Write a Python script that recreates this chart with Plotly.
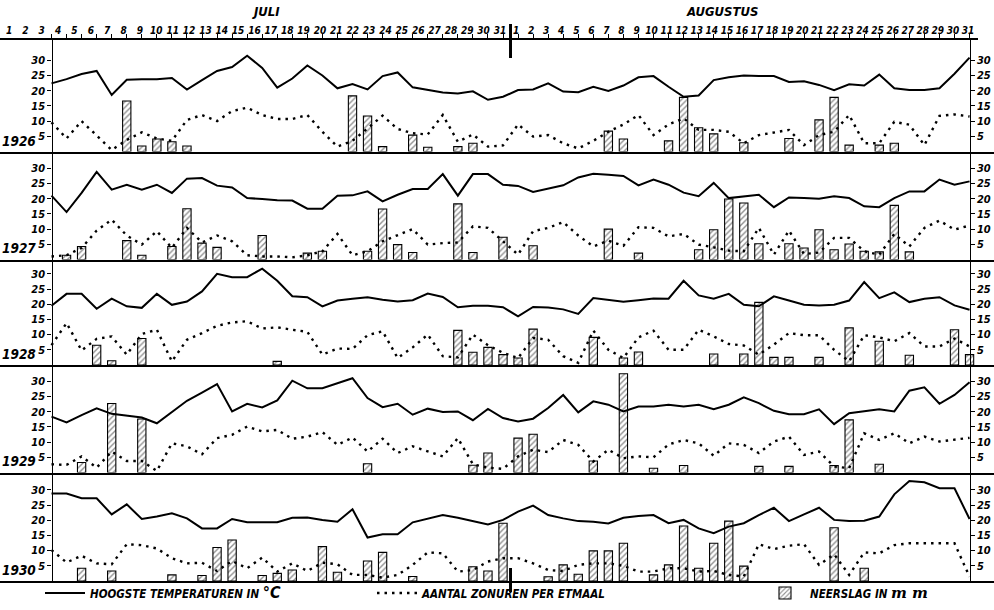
import plotly.graph_objects as go

N = None
YEARS = ["1926", "1927", "1928", "1929", "1930"]
DAY_NUMBERS = list(range(1, 32))
DAY_LABELS = [str(d) for d in DAY_NUMBERS]
DAY_INDEX = list(range(62))  # 0 = 1 juli ... 61 = 31 augustus
Y_TICKS = [5, 10, 15, 20, 25, 30]
MONTHS = ["JULI", "AUGUSTUS"]

# Hoogste temperaturen (°C): juli 1-31, augustus 1-31
TEMP_1926 = [22.4, 23.8, 25.5, 26.5, 18.6, 23.6, 23.8, 23.8, 24.2, 20.4,
             23.5, 26.5, 27.8, 31.5, 27.5, 21.0, 24.0, 28.3, 25.0, 20.8,
             22.2, 20.4, 24.8, 26.0, 21.1, 20.2, 19.4, 19.1, 19.8, 17.0, 18.0,
             20.2, 20.4, 22.4, 19.7, 19.5, 21.3, 19.9, 21.7, 24.4, 24.8,
             21.3, 18.0, 18.4, 23.5, 24.4, 25.0, 24.8, 24.8, 22.9, 23.1,
             21.9, 20.2, 22.1, 21.7, 25.3, 20.8, 20.2, 20.2, 20.8, 25.6, 30.9]
TEMP_1927 = [21.0, 15.6, 21.9, 28.8, 23.0, 24.6, 23.0, 24.6, 21.9, 26.6,
             26.8, 24.3, 23.7, 20.2, 19.9, 19.5, 19.4, 16.7, 16.7, 21.0,
             21.1, 22.4, 19.1, 21.3, 23.2, 23.2, 28.1, 21.0, 28.1, 28.1, 24.6,
             24.2, 22.2, 23.2, 24.4, 27.0, 28.2, 27.9, 27.5, 24.4, 26.3,
             24.6, 22.0, 20.8, 25.2, 20.2, 20.8, 21.3, 17.2, 20.4, 20.2,
             20.0, 20.8, 20.2, 17.5, 17.2, 20.2, 22.4, 22.4, 26.3, 24.6, 25.7]
TEMP_1928 = [19.5, 23.4, 23.4, 18.5, 21.8, 19.3, 18.8, 23.4, 19.8, 20.9,
             24.2, 30.0, 28.9, 28.9, 31.7, 27.7, 22.6, 22.3, 19.3, 21.2,
             21.8, 22.3, 21.5, 20.9, 21.3, 23.5, 22.4, 19.0, 19.5, 19.5, 19.0,
             16.0, 19.1, 18.9, 18.3, 16.8, 22.0, 21.5, 20.8, 21.3, 21.9,
             21.8, 27.7, 22.9, 21.8, 23.4, 19.8, 19.3, 22.6, 21.2, 19.8,
             19.6, 19.8, 21.2, 27.3, 22.0, 23.9, 20.7, 21.8, 22.3, 19.6, 18.2]
TEMP_1929 = [18.4, 16.5, 18.9, 21.1, 19.3, 18.6, 18.1, 16.2, 19.8, 23.6,
             26.3, 29.1, 20.1, 22.6, 21.4, 23.7, 30.2, 27.7, 27.7, 29.4,
             31.0, 24.5, 21.5, 22.6, 19.0, 21.0, 19.9, 20.1, 17.2, 20.9, 17.9,
             16.8, 17.7, 21.2, 25.5, 19.8, 23.4, 22.3, 20.1, 21.7, 21.7,
             22.3, 21.7, 22.3, 20.8, 22.3, 24.7, 22.8, 20.3, 19.2, 19.2,
             20.8, 15.9, 19.5, 20.1, 20.8, 20.1, 26.9, 28.0, 22.6, 25.5, 29.7]
TEMP_1930 = [28.8, 28.8, 27.2, 27.2, 21.9, 25.2, 20.4, 21.2, 22.3, 20.6,
             17.3, 17.3, 20.4, 19.3, 19.3, 19.3, 20.8, 20.9, 20.1, 19.5,
             23.6, 14.3, 15.4, 15.4, 19.3, 20.6, 21.7, 20.8, 19.7, 18.6, 20.1,
             22.8, 24.8, 21.7, 20.6, 19.7, 19.5, 18.9, 20.8, 21.4, 21.7,
             19.0, 20.1, 17.3, 15.7, 17.9, 19.0, 21.7, 24.1, 19.7, 21.9,
             24.1, 20.1, 19.7, 19.8, 21.2, 28.5, 32.9, 32.5, 30.5, 30.5, 20.4]

# Aantal zonuren per etmaal
SUN_1926 = [9.6, 4.3, 10.0, 5.4, 0.5, 3.8, 6.3, 4.3, 3.5, 10.4,
            12.0, 10.0, 13.3, 14.4, 12.0, 10.7, 10.7, 12.0, 6.5, 1.6,
            3.5, 7.6, 11.8, 7.4, 6.0, 5.6, 12.0, 3.2, 5.6, 1.6, 2.0,
            8.9, 4.9, 5.4, 2.7, 1.0, 3.5, 6.5, 8.9, 12.0, 5.4,
            8.9, 10.9, 7.1, 7.1, 6.5, 2.7, 5.4, 6.2, 7.1, 2.1,
            5.4, 6.5, 12.0, 2.7, 2.7, 9.8, 8.8, 2.1, 11.7, 12.2, 11.5]
SUN_1927 = [1.0, 1.4, 3.8, 9.5, 13.1, 7.9, 4.9, 9.3, 3.8, 10.4,
            5.6, 7.9, 6.0, 1.4, 1.0, 1.0, 0.7, 1.4, 2.7, 8.4,
            1.4, 2.7, 6.0, 7.9, 10.0, 4.9, 5.4, 5.6, 10.9, 10.4, 6.0,
            1.6, 9.3, 10.4, 12.3, 7.9, 4.3, 6.2, 4.5, 10.6, 10.4,
            7.6, 8.4, 4.9, 4.0, 2.9, 2.7, 10.4, 1.6, 9.5, 1.8,
            2.3, 7.1, 7.1, 2.7, 1.6, 8.4, 4.3, 10.4, 12.8, 9.8, 11.2]
SUN_1928 = [6.5, 13.8, 4.8, 8.6, 9.4, 3.4, 10.2, 11.6, 1.2, 8.3,
            10.5, 12.9, 14.0, 14.4, 12.0, 12.4, 11.6, 10.9, 3.4, 5.4,
            5.3, 9.8, 11.1, 2.3, 5.8, 10.0, 2.9, 2.5, 10.0, 6.5, 4.0,
            2.3, 8.9, 8.3, 2.9, 0.7, 11.3, 5.0, 2.3, 9.1, 11.3,
            5.0, 5.0, 11.6, 9.4, 6.9, 6.4, 3.4, 6.7, 10.5, 9.8,
            9.8, 5.0, 1.2, 9.8, 9.1, 7.8, 10.5, 6.1, 6.1, 8.7, 6.1]
SUN_1929 = [2.7, 2.5, 5.3, 1.6, 6.9, 3.8, 3.8, 0.5, 9.6, 8.6,
            6.0, 11.3, 12.4, 15.1, 13.5, 14.0, 11.1, 11.8, 13.3, 9.1,
            11.5, 6.9, 11.1, 6.4, 8.6, 6.9, 5.3, 11.3, 2.7, 1.6, 1.2,
            5.3, 7.5, 6.7, 10.7, 9.1, 3.6, 7.5, 4.7, 5.3, 5.0,
            9.2, 10.7, 9.6, 5.5, 9.6, 9.1, 6.4, 10.2, 11.8, 5.8,
            6.9, 2.0, 1.4, 12.9, 10.7, 12.9, 9.6, 11.8, 10.2, 10.7, 11.4]
SUN_1930 = [10.2, 6.1, 8.3, 5.8, 5.5, 12.1, 11.8, 10.7, 7.5, 5.8,
            6.0, 3.3, 6.6, 4.2, 7.7, 3.1, 5.8, 3.3, 6.0, 5.5,
            2.0, 2.0, 1.1, 2.0, 5.3, 9.4, 9.1, 3.1, 3.6, 6.4, 7.5,
            7.5, 5.8, 3.6, 3.3, 5.3, 5.8, 5.8, 5.0, 3.1, 3.1,
            4.2, 4.2, 3.1, 3.3, 2.0, 1.5, 12.1, 10.5, 11.6, 12.1,
            5.3, 8.8, 2.0, 9.4, 9.1, 11.8, 12.4, 12.4, 12.4, 12.4, 1.4]

# Neerslag (mm); None = geen neerslag
RAIN_1926 = [N, N, N, N, N, 16.6, 1.8, 4.1, 3.2, 1.8,
             N, N, N, N, N, N, N, N, N, N,
             18.3, 11.7, 1.6, N, 5.4, 1.4, N, 1.6, 2.7, N, N,
             N, N, N, N, N, N, 6.7, 4.1, N, N,
             3.5, 17.8, 7.8, 5.8, N, 2.9, N, N, 4.3, N,
             10.4, 17.8, 2.1, N, 2.1, 2.7, N, N, N, N, N]
RAIN_1927 = [N, 1.4, 4.3, N, N, 6.2, 1.4, N, 4.3, 16.7,
             5.4, 4.0, N, N, 7.9, N, N, 2.1, 2.7, N,
             N, 2.7, 16.6, 4.9, 2.3, N, N, 18.3, 2.3, N, 7.3,
             N, 4.5, N, N, N, N, 10.0, N, 2.1, N,
             N, N, 3.2, 9.8, 19.9, 18.6, 5.2, N, 5.2, 3.8,
             9.8, 3.2, 5.1, 2.7, 2.5, 17.8, 2.5, N, N, N, N]
RAIN_1928 = [N, N, N, 6.5, 1.4, N, 8.7, N, N, N,
             N, N, N, N, N, 1.2, N, N, N, N,
             N, N, N, N, N, N, N, 11.4, 4.2, 5.8, 3.4,
             2.3, 11.8, N, N, N, 9.1, N, 2.3, 4.3, N,
             N, N, N, 3.6, N, 3.6, 20.6, 2.5, 2.5, N,
             2.5, N, 12.2, N, 7.8, N, 3.2, N, N, 11.6, 3.4]
RAIN_1929 = [N, N, 3.3, N, 22.7, N, 17.6, N, N, N,
             N, N, N, N, N, N, N, N, N, N,
             N, 2.9, N, N, N, N, N, N, 2.4, 6.4, N,
             11.3, 12.6, N, N, N, 3.8, N, 32.5, N, 1.4,
             N, 2.3, N, N, N, N, 2.0, N, 2.0, N,
             N, 2.3, 17.3, N, 2.7, N, N, N, N, N, N]
RAIN_1930 = [N, N, 4.2, N, 3.3, N, N, N, 2.0, N,
             1.8, 11.0, 13.5, N, 1.8, 2.5, 3.6, N, 11.3, 2.9,
             N, 6.6, 9.4, N, 1.5, N, N, N, 4.7, 3.3, 19.0,
             N, N, 1.4, 5.3, 2.2, 9.9, 9.9, 12.4, N, 2.0,
             5.3, 18.1, 4.2, 12.4, 19.7, 4.9, N, N, N, N,
             N, 17.5, N, 4.2, N, N, N, N, N, N, N]

TEMP = {"1926": TEMP_1926, "1927": TEMP_1927, "1928": TEMP_1928, "1929": TEMP_1929, "1930": TEMP_1930}
SUN = {"1926": SUN_1926, "1927": SUN_1927, "1928": SUN_1928, "1929": SUN_1929, "1930": SUN_1930}
RAIN = {"1926": RAIN_1926, "1927": RAIN_1927, "1928": RAIN_1928, "1929": RAIN_1929, "1930": RAIN_1930}

LEGEND_TEXT = ["HOOGSTE TEMPERATUREN IN <span style='font-size:16px'>°C</span>",
               "AANTAL ZONUREN PER ETMAAL",
               "NEERSLAG IN <span style='font-family:DejaVu Serif;font-size:15px'>m m</span>"]

# ---------------- geometry (pixels) ----------------
W, H = 994, 610
X0, DX = 51.5, 15.05            # pixel of 1 juli, pixels per day
PX_PER_UNIT = 3.04
PANEL_TOP = [40, 151.5, 259.5, 365, 472.5]
PANEL_BASE = [151.5, 259.5, 365, 472.5, 581]
FONT = "Liberation Sans Narrow, DejaVu Sans Condensed, Liberation Sans, sans-serif"


def xf(px):
    return px / W


def yf(py):
    return (H - py) / H


TICKFONT = dict(family=FONT, size=11, color="black", style="italic", weight="bold")
DAYFONT = dict(family=FONT, size=10, color="black", style="italic", weight="bold")
X_RANGE = [(0 - X0) / DX, (W - X0) / DX]

fig = go.Figure()
layout = dict(width=W, height=H, autosize=False, margin=dict(l=0, r=0, t=0, b=0),
              paper_bgcolor="white", plot_bgcolor="rgba(0,0,0,0)",
              font=dict(family=FONT, color="black"), showlegend=True)

for p, year in enumerate(YEARS):
    xa = "x" if p == 0 else f"x{p + 1}"
    yl = "y" if p == 0 else f"y{2 * p + 1}"
    yr = f"y{2 * p + 2}"
    xkey = "xaxis" if p == 0 else f"xaxis{p + 1}"
    ylkey = "yaxis" if p == 0 else f"yaxis{2 * p + 1}"
    yrkey = f"yaxis{2 * p + 2}"
    top, base = PANEL_TOP[p], PANEL_BASE[p]
    yrange = [0, (base - top) / PX_PER_UNIT]

    layout[xkey] = dict(domain=[0, 1], range=X_RANGE, anchor=yl, showline=True,
                        linecolor="black", linewidth=1.6, ticks="", showticklabels=False,
                        showgrid=False, zeroline=False, fixedrange=True)
    common_y = dict(range=yrange, tickvals=Y_TICKS, ticktext=[str(v) for v in Y_TICKS],
                    ticks="outside", ticklen=4, tickwidth=1.2, tickcolor="black",
                    showline=True, linecolor="black", linewidth=1.4, showgrid=False,
                    zeroline=False, tickfont=TICKFONT, anchor="free", fixedrange=True)
    layout[ylkey] = dict(domain=[yf(base), yf(top)], position=xf(X0), side="left", **common_y)
    layout[yrkey] = dict(overlaying=yl, position=xf(X0 + 61 * DX), side="right", **common_y)

    first = p == 0
    fig.add_trace(go.Bar(x=DAY_INDEX, y=RAIN[year], xaxis=xa, yaxis=yl, width=0.55,
                         name=LEGEND_TEXT[2], legend="legend3", showlegend=first,
                         marker=dict(color="white", line=dict(color="black", width=1.1),
                                     pattern=dict(shape="/", fgcolor="#222", bgcolor="white",
                                                  size=4, solidity=0.35)),
                         hoverinfo="skip"))
    fig.add_trace(go.Scatter(x=DAY_INDEX, y=SUN[year], xaxis=xa, yaxis=yl, mode="lines",
                             line=dict(color="black", width=2.4, dash="2.5px,5px"),
                             name=LEGEND_TEXT[1], legend="legend2", showlegend=first,
                             hoverinfo="skip"))
    fig.add_trace(go.Scatter(x=DAY_INDEX, y=TEMP[year], xaxis=xa, yaxis=yl, mode="lines",
                             line=dict(color="black", width=2.0),
                             name=LEGEND_TEXT[0], legend="legend", showlegend=first,
                             hoverinfo="skip"))
    fig.add_trace(go.Scatter(x=[0], y=[0], xaxis=xa, yaxis=yr, mode="markers",
                             marker=dict(opacity=0), showlegend=False, hoverinfo="skip"))
    layout.setdefault("annotations", []).append(
        dict(text=f"<i>{year}</i>", x=xf(19), y=yf(base - 1), xref="paper", yref="paper",
             xanchor="center", yanchor="bottom", showarrow=False,
             font=dict(family=FONT, size=13.5, color="black", weight="bold")))

# top tick row (day ticks) and label rows
layout["xaxis6"] = dict(domain=[0, xf(978)], range=[(0 - X0) / DX, (978 - X0) / DX], anchor="y",
                        side="top", showline=True, linecolor="black", linewidth=1.5,
                        ticks="outside", ticklen=4, tickwidth=1, tickcolor="black",
                        tickvals=DAY_INDEX, showticklabels=False, showgrid=False,
                        zeroline=False, fixedrange=True)
JUL_L, JUL_R, AUG_L, AUG_R = 9, 500, 516, 968
jul_dx = (JUL_R - JUL_L) / 30
aug_dx = (AUG_R - AUG_L) / 30
layout["xaxis7"] = dict(domain=[0, xf(510)], range=[1 - JUL_L / jul_dx, 1 + (510 - JUL_L) / jul_dx],
                        anchor="free", position=yf(36), side="top", showline=False, ticks="",
                        tickvals=DAY_NUMBERS, ticktext=DAY_LABELS, tickfont=DAYFONT,
                        tickangle=0, showgrid=False, zeroline=False, fixedrange=True)
layout["xaxis8"] = dict(domain=[xf(510), 1], range=[1 - (AUG_L - 510) / aug_dx, 1 + (W - AUG_L) / aug_dx],
                        anchor="free", position=yf(36), side="top", showline=False, ticks="",
                        tickvals=DAY_NUMBERS, ticktext=DAY_LABELS, tickfont=DAYFONT,
                        tickangle=0, showgrid=False, zeroline=False, fixedrange=True)
for xa in ["x6", "x7", "x8"]:
    fig.add_trace(go.Scatter(x=[1], y=[0], xaxis=xa, yaxis="y", mode="markers",
                             marker=dict(opacity=0), showlegend=False, hoverinfo="skip"))

layout["annotations"] += [
    dict(text=f"<i>{MONTHS[0]}</i>", x=xf(266), y=yf(12), xref="paper", yref="paper",
         xanchor="center", yanchor="middle", showarrow=False,
         font=dict(family=FONT, size=13, weight="bold")),
    dict(text=f"<i>{MONTHS[1]}</i>", x=xf(722), y=yf(12), xref="paper", yref="paper",
         xanchor="center", yanchor="middle", showarrow=False,
         font=dict(family=FONT, size=13, weight="bold")),
]

layout["shapes"] = [
    dict(type="line", xref="x", yref="paper", x0=30.5, x1=30.5, y0=yf(58), y1=yf(24),
         line=dict(color="black", width=3)),
    dict(type="line", xref="x5", yref="paper", x0=30.5, x1=30.5, y0=yf(592), y1=yf(568),
         line=dict(color="black", width=3)),
]

LEG_FONT = dict(family=FONT, size=11.5, color="black", style="italic", weight="bold")
for key, px in [("legend", 40), ("legend2", 372), ("legend3", 760)]:
    layout[key] = dict(x=xf(px), y=yf(593), xanchor="left", yanchor="middle",
                       orientation="h", bgcolor="rgba(0,0,0,0)", font=LEG_FONT,
                       itemwidth=40)

fig.update_layout(**layout)
fig.write_html("out.html", config={"displayModeBar": False},
               post_script="document.body.style.margin='0';"
                           "document.documentElement.style.overflow='hidden';")
